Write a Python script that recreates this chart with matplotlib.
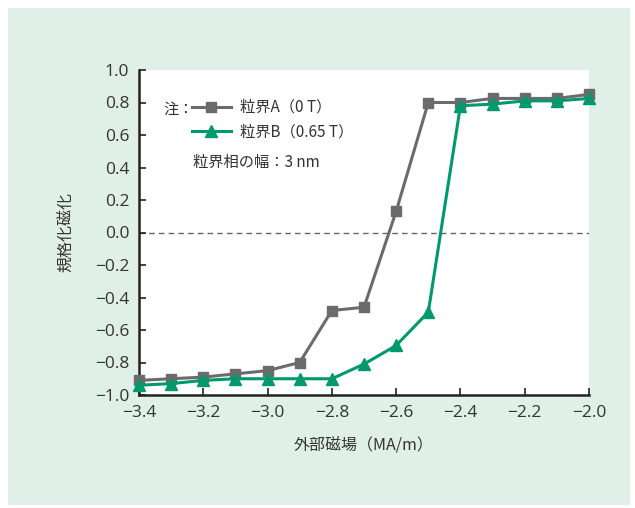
import matplotlib
matplotlib.use('Agg')
import matplotlib.pyplot as plt
from matplotlib.patches import Rectangle

plt.rcParams['font.family'] = ['Noto Sans CJK JP', 'DejaVu Sans']

# external field (MA/m) and normalized magnetization
field = [-3.4, -3.3, -3.2, -3.1, -3.0, -2.9, -2.8, -2.7, -2.6, -2.5, -2.4, -2.3, -2.2, -2.1, -2.0]
mag_a = [-0.91, -0.90, -0.89, -0.87, -0.85, -0.80, -0.48, -0.46, 0.13, 0.80, 0.80, 0.825, 0.825, 0.825, 0.85]
mag_b = [-0.94, -0.93, -0.91, -0.90, -0.90, -0.90, -0.90, -0.81, -0.695, -0.49, 0.78, 0.79, 0.81, 0.81, 0.825]

label_a = '粒界A（0 T）'
label_b = '粒界B（0.65 T）'
xticks = [-3.4, -3.2, -3.0, -2.8, -2.6, -2.4, -2.2, -2.0]
yticks = [-1.0, -0.8, -0.6, -0.4, -0.2, 0.0, 0.2, 0.4, 0.6, 0.8, 1.0]

bg = '#e0efe8'
gray = '#6b6b6b'
green = '#00996e'
txt = '#333333'
numfont = ['Open Sans', 'Noto Sans CJK JP']

fig = plt.figure(figsize=(6.35, 5.08), dpi=100)
fig.patch.set_facecolor('white')
fig.patches.append(Rectangle((8/635, 3/508), 622/635, 497/508, transform=fig.transFigure,
                             facecolor=bg, edgecolor='none', zorder=-10))

ax = fig.add_axes([139/635, 1 - 395/508, 450/635, 325/508])
ax.set_facecolor('white')

ax.axhline(0, color='#666666', lw=1.0, ls=(0, (4, 3)), zorder=1)

ax.plot(field, mag_a, color=gray, lw=2.2, marker='s', ms=7, label=label_a, clip_on=False, zorder=3)
ax.plot(field, mag_b, color=green, lw=2.2, marker='^', ms=8.5, label=label_b, clip_on=False, zorder=4)

ax.set_xlim(-3.4, -2.0)
ax.set_ylim(-1.0, 1.0)
ax.set_xticks(xticks)
ax.set_yticks(yticks)
ax.set_xticklabels(['−%.1f' % abs(v) for v in xticks], family=numfont)
ax.set_yticklabels([('−%.1f' % abs(v)) if v < 0 else '%.1f' % v for v in yticks], family=numfont)
ax.tick_params(direction='in', length=5, width=1.2, color='#222222', labelsize=12.5,
               labelcolor=txt, pad=7)
for s in ['top', 'right']:
    ax.spines[s].set_visible(False)
for s in ['left', 'bottom']:
    ax.spines[s].set_linewidth(1.8)
    ax.spines[s].set_color('#222222')

ax.set_xlabel('外部磁場（MA/m）', fontsize=11.5, color=txt, labelpad=12)
ax.set_ylabel('規格化磁化', fontsize=11.5, color=txt, labelpad=14)

leg = ax.legend(loc='upper left', bbox_to_anchor=(0.105, 0.93), frameon=False, fontsize=11,
                handlelength=2.5, labelspacing=0.5, handletextpad=0.6, borderaxespad=0)
for t in leg.get_texts():
    t.set_color(txt)
ax.text(0.055, 0.88, '注：', transform=ax.transAxes, fontsize=11, color=txt, va='center')
ax.text(0.12, 0.715, '粒界相の幅：3 nm', transform=ax.transAxes, fontsize=11, color=txt, va='center')

fig.savefig('out.png', dpi=100, facecolor=fig.get_facecolor())
